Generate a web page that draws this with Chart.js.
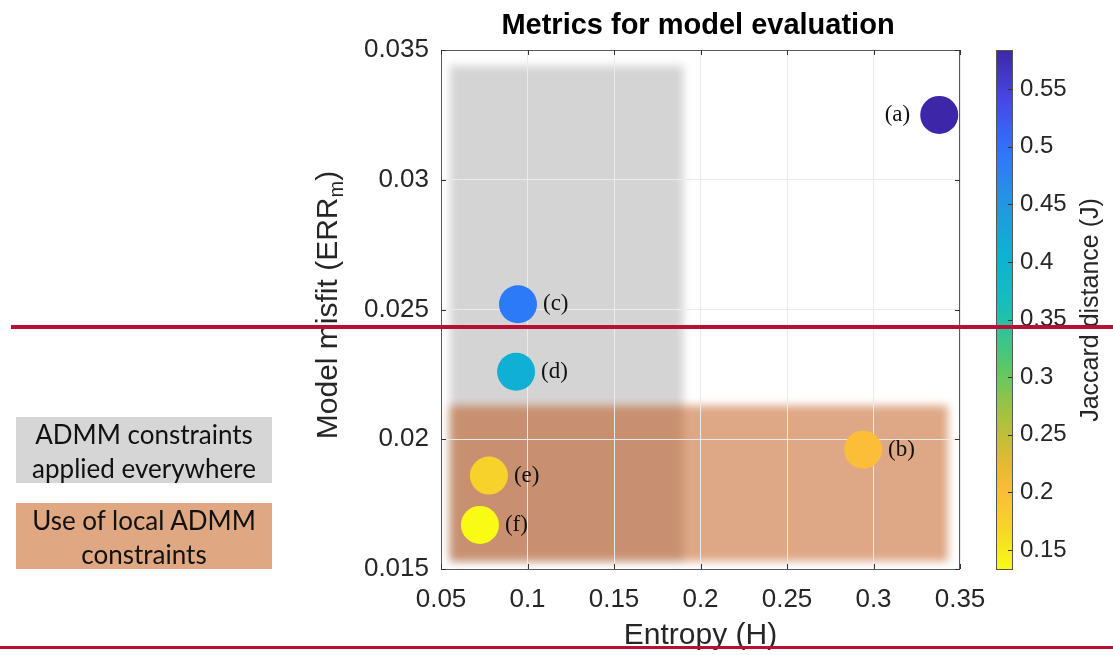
<!DOCTYPE html>
<html>
<head>
<meta charset="utf-8">
<script src="https://cdn.jsdelivr.net/npm/chart.js@4"></script>
<style>
  body { margin: 0; background: #fff; }
  .wrap { position: relative; width: 1113px; height: 655px; }
  .note {
    position: absolute; left: 16px; width: 256px; height: 66px;
    font-family: Lato, "Open Sans", sans-serif; font-size: 26px; line-height: 34px;
    color: #111; text-align: center;
  }
  .grey { top: 417px; background: #d6d6d6; }
  .orange { top: 503px; background: #e0a882; }
</style>
</head>
<body>
<div class="wrap">
  <canvas id="myChart" width="1113" height="655"></canvas>
  <div class="note grey">ADMM constraints<br>applied everywhere</div>
  <div class="note orange">Use of local ADMM<br>constraints</div>
</div>
<script>
let names = ['(a)', '(b)', '(c)', '(d)', '(e)', '(f)'];
let entropy = [0.338, 0.294, 0.0945, 0.0934, 0.0777, 0.0725]; // H
let misfit = [0.0325, 0.0196, 0.0252, 0.0226, 0.0186, 0.0167]; // ERR_m
let jaccard = [0.584, 0.199, 0.489, 0.408, 0.174, 0.1335]; // J, drives colour

let xTicks = [0.05, 0.1, 0.15, 0.2, 0.25, 0.3, 0.35];
let yTicks = [0.015, 0.02, 0.025, 0.03, 0.035];
let cbTicks = [0.15, 0.2, 0.25, 0.3, 0.35, 0.4, 0.45, 0.5, 0.55];

// shaded regions: [xmin, xmax, ymin, ymax]
let greyZone = [0.0552, 0.190, 0.0153, 0.0344];
let orangeZone = [0.0552, 0.343, 0.0153, 0.0213];

// parula, dark blue at 0 -> yellow at 1
let parula = [
  [0.00, 62, 38, 168],
  [0.10, 71, 73, 232],
  [0.20, 47, 118, 251],
  [0.30, 33, 152, 226],
  [0.40, 13, 178, 211],
  [0.50, 25, 191, 180],
  [0.60, 80, 201, 110],
  [0.70, 164, 194, 60],
  [0.80, 228, 186, 50],
  [0.85, 252, 188, 57],
  [0.925, 245, 215, 40],
  [1.00, 249, 251, 20]
];

function parulaColor(t) {
  t = Math.max(0, Math.min(1, t));
  for (let i = 1; i < parula.length; i++) {
    if (t <= parula[i][0]) {
      let a = parula[i - 1], b = parula[i];
      let f = (t - a[0]) / (b[0] - a[0]);
      let c = [1, 2, 3].map(k => Math.round(a[k] + (b[k] - a[k]) * f));
      return 'rgb(' + c.join(',') + ')';
    }
  }
  return 'rgb(249,251,20)';
}

let cmin = Math.min(...jaccard);
let cmax = Math.max(...jaccard);
// colormap is flipped: high J is dark blue
let pointColors = jaccard.map(j => parulaColor((cmax - j) / (cmax - cmin)));

let fmt = v => String(Number(v.toFixed(4)));
const FONT = '"Liberation Sans", Arial, Helvetica, sans-serif';
const TXT = '#262626';

//shaded zones, grid goes on top of them
const zones = {
  id: 'zones',
  beforeDraw(chart) {
    const {ctx, scales: {x, y}} = chart;
    ctx.save();
    ctx.filter = 'blur(4px)';
    let box = z => [x.getPixelForValue(z[0]), y.getPixelForValue(z[3]),
      x.getPixelForValue(z[1]) - x.getPixelForValue(z[0]),
      y.getPixelForValue(z[2]) - y.getPixelForValue(z[3])];
    ctx.fillStyle = '#d5d4d5';
    ctx.fillRect(...box(greyZone));
    ctx.fillStyle = 'rgba(186,72,3,0.48)';
    ctx.fillRect(...box(orangeZone));
    ctx.restore();
  },
  beforeDatasetsDraw(chart) {
    const {ctx, chartArea: a, scales: {x, y, cb}} = chart;
    ctx.save();
    // axes box
    ctx.strokeStyle = '#5a5a5a';
    ctx.lineWidth = 1;
    ctx.strokeRect(a.left + 0.5, a.top + 0.5, a.right - a.left - 1, a.bottom - a.top);
    // inward ticks
    ctx.strokeStyle = '#333';
    ctx.beginPath();
    xTicks.forEach(v => {
      let px = Math.round(x.getPixelForValue(v)) + 0.5;
      ctx.moveTo(px, a.bottom); ctx.lineTo(px, a.bottom - 5);
      ctx.moveTo(px, a.top); ctx.lineTo(px, a.top + 5);
    });
    yTicks.forEach(v => {
      let py = Math.round(y.getPixelForValue(v)) + 0.5;
      ctx.moveTo(a.left, py); ctx.lineTo(a.left + 5, py);
      ctx.moveTo(a.right, py); ctx.lineTo(a.right - 5, py);
    });
    ctx.stroke();

    // colorbar
    let cx = 996, cw = 16;
    let g = ctx.createLinearGradient(0, cb.top, 0, cb.bottom);
    for (let i = 0; i <= 40; i++) g.addColorStop(i / 40, parulaColor(i / 40));
    ctx.fillStyle = g;
    ctx.fillRect(cx, cb.top, cw, cb.bottom - cb.top);
    ctx.strokeStyle = '#555';
    ctx.strokeRect(cx + 0.5, cb.top + 0.5, cw, cb.bottom - cb.top);
    ctx.beginPath();
    cbTicks.forEach(v => {
      let py = Math.round(cb.getPixelForValue(v)) + 0.5;
      ctx.moveTo(cx + cw, py); ctx.lineTo(cx + cw - 4, py);
    });
    ctx.strokeStyle = '#333';
    ctx.stroke();
    ctx.restore();
  },
  afterDatasetsDraw(chart) {
    const {ctx, chartArea: a} = chart;
    const meta = chart.getDatasetMeta(0);
    ctx.save();
    ctx.font = '23px "Liberation Serif", "Times New Roman", serif';
    ctx.fillStyle = '#111';
    ctx.textBaseline = 'middle';
    meta.data.forEach((pt, i) => {
      if (pt.x + 70 > a.right) {
        ctx.textAlign = 'right';
        ctx.fillText(names[i], pt.x - 29, pt.y);
      } else {
        ctx.textAlign = 'left';
        ctx.fillText(names[i], pt.x + 25, pt.y);
      }
    });
    ctx.restore();
  },
  afterDraw(chart) {
    const {ctx, chartArea: a} = chart;
    ctx.save();
    // title
    ctx.fillStyle = '#000';
    ctx.font = 'bold 29px ' + FONT;
    ctx.textAlign = 'center';
    ctx.textBaseline = 'alphabetic';
    ctx.fillText('Metrics for model evaluation', 698, 34);

    // y title with subscript
    ctx.fillStyle = TXT;
    ctx.translate(337, 305);
    ctx.rotate(-Math.PI / 2);
    let main = 'Model misfit (ERR', sub = 'm', tail = ')';
    ctx.font = '30px ' + FONT;
    let w1 = ctx.measureText(main).width, w3 = ctx.measureText(tail).width;
    ctx.font = '20px ' + FONT;
    let w2 = ctx.measureText(sub).width;
    let sx = -(w1 + w2 + w3) / 2;
    ctx.textAlign = 'left';
    ctx.font = '30px ' + FONT;
    ctx.fillText(main, sx, 0);
    ctx.font = '20px ' + FONT;
    ctx.fillText(sub, sx + w1, 6);
    ctx.font = '30px ' + FONT;
    ctx.fillText(tail, sx + w1 + w2, 0);
    ctx.setTransform(1, 0, 0, 1, 0, 0);

    // colorbar title
    ctx.translate(1098, 310);
    ctx.rotate(-Math.PI / 2);
    ctx.font = '25px ' + FONT;
    ctx.textAlign = 'center';
    ctx.fillText('Jaccard distance (J)', 0, 0);
    ctx.setTransform(1, 0, 0, 1, 0, 0);

    // red guide lines
    ctx.fillStyle = 'rgb(183,16,52)';
    ctx.fillRect(11, 325, 1102, 4);
    ctx.fillRect(0, 646, 1113, 3);
    ctx.restore();
  }
};

const chart = document.getElementById('myChart').getContext('2d');
const myChart = new Chart(chart, {
  type: 'scatter',
  data: {
    datasets: [{
      data: entropy.map((h, i) => ({x: h, y: misfit[i]})),
      backgroundColor: pointColors,
      borderWidth: 0,
      pointRadius: 19,
      pointHoverRadius: 19
    }]
  },
  options: {
    responsive: false,
    animation: false,
    devicePixelRatio: 1,
    layout: {padding: {left: 300, right: 0, top: 50, bottom: 0}},
    plugins: {legend: {display: false}, tooltip: {enabled: false}, title: {display: false}},
    scales: {
      x: {
        type: 'linear', min: 0.05, max: 0.35,
        afterFit: s => { s.height = 86; },
        afterBuildTicks: s => { s.ticks = xTicks.map(v => ({value: v})); },
        grid: {color: '#ebebeb', drawTicks: false},
        border: {display: false},
        ticks: {font: {size: 26, family: FONT}, color: TXT, padding: 15, maxRotation: 0, autoSkip: false, callback: fmt},
        title: {display: true, text: 'Entropy (H)', font: {size: 30, family: FONT}, color: TXT, padding: {top: 0, bottom: 1}}
      },
      y: {
        type: 'linear', min: 0.015, max: 0.035,
        afterFit: s => { s.width = 141; },
        afterBuildTicks: s => { s.ticks = yTicks.map(v => ({value: v})); },
        grid: {color: '#ebebeb', drawTicks: false},
        border: {display: false},
        ticks: {font: {size: 26, family: FONT}, color: TXT, padding: 12, callback: fmt}
      },
      cb: {
        type: 'linear', position: 'right', min: cmin, max: cmax,
        afterFit: s => { s.width = 153; },
        afterBuildTicks: s => { s.ticks = cbTicks.map(v => ({value: v})); },
        grid: {display: true, drawOnChartArea: false, drawTicks: true, tickLength: 54, color: 'rgba(0,0,0,0)'},
        border: {display: false},
        ticks: {font: {size: 24, family: FONT}, color: TXT, padding: 6, callback: fmt}
      }
    }
  },
  plugins: [zones]
});
</script>
</body>
</html>
